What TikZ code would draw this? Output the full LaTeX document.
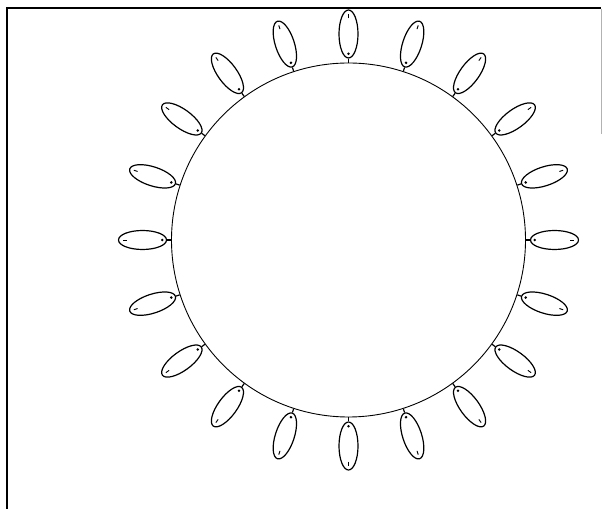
\documentclass[tikz,border=0pt]{standalone}
\usetikzlibrary{shapes.geometric,calc}
\begin{document}
\begin{tikzpicture}[x=1pt,y=1pt,
 frame/.style={line width=2pt, black},
 ring/.style={circle, draw, line width=0.9pt, minimum size=354pt, inner sep=0pt},
 cell/.style={ellipse, draw, line width=1.2pt, minimum width=48pt, minimum height=19pt, inner sep=0pt},
 stub/.style={line width=1.2pt},
 tick/.style={line width=0.9pt}
 ]
\useasboundingbox (0,0) rectangle (603,509);
\coordinate (f1) at (7,0);
\coordinate (f2) at (7,501);
\coordinate (f3) at (601,501);
\coordinate (g1) at (601,500);
\coordinate (g2) at (601,375);
\draw[frame] (f1) -- (f2) -- (f3);
\draw[gray!60, line width=0.8pt] (g1) -- (g2);
\node[ring] (c) at (348.5,269) {};
\foreach \i in {0,...,19}{
 \pgfmathtruncatemacro\a{90+18*\i}
 \node[cell, rotate=\a] (e\i) at ($(c.center)+(\a:206)$) {};
 \draw[stub] (c.\a) -- (e\i.west);
 \fill ($(e\i.west)!0.1!(e\i.east)$) circle (1.4pt);
 \draw[tick] ($(e\i.west)!0.82!(e\i.east)$) -- ($(e\i.west)!0.9!(e\i.east)$);
}
\end{tikzpicture}
\end{document}
